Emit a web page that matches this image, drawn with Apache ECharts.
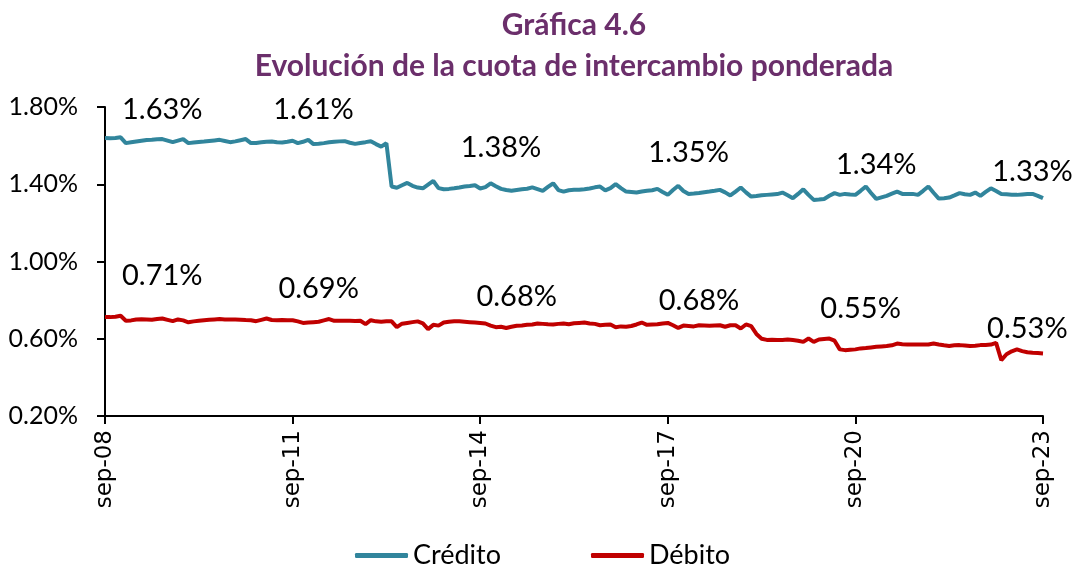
<!DOCTYPE html>
<html>
<head>
<meta charset="utf-8">
<script src="https://cdn.jsdelivr.net/npm/echarts@6/dist/echarts.min.js"></script>
<style>
html,body{margin:0;padding:0;background:#fff;}
#chart{width:1076px;height:567px;}
</style>
</head>
<body>
<div id="chart"></div>
<script>
// Monthly categories sep-08 .. sep-23
const monthNames = ['ene','feb','mar','abr','may','jun','jul','ago','sep','oct','nov','dic'];
const categories = [];
for (let k = 0; k < 181; k++) {
  const m = (8 + k) % 12;
  const y = 8 + Math.floor((8 + k) / 12);
  categories.push(monthNames[m] + '-' + String(y).padStart(2, '0'));
}

// Crédito (%)
const credito = [
  1.639,1.638,1.639,1.643,1.613,1.617,1.621,1.625,1.629,1.630,1.633,1.634,
  1.626,1.618,1.626,1.634,1.613,1.616,1.619,1.621,1.624,1.627,1.630,1.624,
  1.618,1.622,1.628,1.634,1.613,1.614,1.617,1.620,1.621,1.617,1.616,1.620,
  1.625,1.613,1.620,1.630,1.608,1.610,1.613,1.617,1.620,1.622,1.623,1.615,
  1.609,1.614,1.618,1.623,1.608,1.595,1.613,1.388,1.382,1.395,1.407,1.392,
  1.383,1.379,1.398,1.417,1.380,1.374,1.376,1.379,1.383,1.388,1.391,1.395,
  1.378,1.385,1.405,1.390,1.376,1.370,1.366,1.370,1.374,1.377,1.384,1.375,
  1.366,1.386,1.405,1.370,1.362,1.369,1.371,1.371,1.374,1.378,1.384,1.388,
  1.368,1.380,1.401,1.380,1.362,1.360,1.357,1.362,1.366,1.369,1.376,1.360,
  1.345,1.370,1.392,1.365,1.350,1.352,1.355,1.359,1.362,1.366,1.371,1.358,
  1.342,1.362,1.383,1.358,1.336,1.339,1.343,1.345,1.347,1.349,1.357,1.343,
  1.328,1.350,1.374,1.345,1.319,1.321,1.324,1.340,1.354,1.345,1.350,1.347,
  1.345,1.366,1.388,1.355,1.324,1.332,1.340,1.351,1.362,1.350,1.350,1.350,
  1.345,1.366,1.388,1.356,1.326,1.328,1.331,1.342,1.354,1.348,1.345,1.357,
  1.340,1.360,1.379,1.365,1.350,1.348,1.346,1.345,1.347,1.349,1.350,1.340,
  1.328
];

// Débito (%)
const debito = [
  0.713,0.712,0.714,0.719,0.693,0.695,0.700,0.701,0.700,0.698,0.702,0.705,
  0.698,0.691,0.700,0.695,0.685,0.690,0.693,0.696,0.698,0.700,0.702,0.700,
  0.700,0.700,0.699,0.697,0.696,0.691,0.698,0.705,0.697,0.696,0.697,0.696,
  0.696,0.690,0.682,0.684,0.686,0.688,0.695,0.702,0.693,0.693,0.693,0.693,
  0.692,0.693,0.676,0.696,0.690,0.688,0.690,0.690,0.660,0.678,0.682,0.686,
  0.690,0.680,0.650,0.672,0.668,0.684,0.688,0.690,0.690,0.688,0.686,0.684,
  0.682,0.679,0.668,0.660,0.662,0.656,0.662,0.667,0.669,0.672,0.674,0.679,
  0.677,0.675,0.674,0.677,0.679,0.675,0.680,0.682,0.684,0.679,0.677,0.670,
  0.672,0.674,0.660,0.664,0.662,0.666,0.674,0.684,0.672,0.674,0.675,0.679,
  0.682,0.670,0.656,0.668,0.666,0.664,0.670,0.669,0.667,0.669,0.670,0.662,
  0.670,0.670,0.653,0.674,0.665,0.625,0.600,0.594,0.595,0.594,0.594,0.596,
  0.593,0.590,0.584,0.601,0.584,0.596,0.599,0.601,0.590,0.545,0.541,0.543,
  0.545,0.550,0.552,0.555,0.558,0.560,0.562,0.566,0.575,0.572,0.570,0.570,
  0.570,0.570,0.570,0.575,0.570,0.566,0.563,0.566,0.567,0.565,0.562,0.564,
  0.567,0.568,0.570,0.579,0.489,0.520,0.535,0.545,0.536,0.530,0.527,0.526,
  0.524
];

// Annotations shown on the chart (text and the month they sit over)
const creditoLabelText = ['1.63%','1.61%','1.38%','1.35%','1.34%','1.33%'];
const creditoLabelIdx  = [11, 40, 76, 112, 148, 178];
const debitoLabelText  = ['0.71%','0.69%','0.68%','0.68%','0.55%','0.53%'];
const debitoLabelIdx   = [11, 41, 79, 114, 145, 177];

// Y ticks
const yMin = 0.2, yMax = 1.8, yStep = 0.4;

// label vertical offsets (px above the line)
const creditoOffsets = [-29,-34,-41,-41,-34,-22];
const debitoOffsets  = [-43,-33,-29,-25,-40,-24];

const CRED = '#31859C', DEB = '#C00000';
const FONT = 'Lato';

function mkPoints(texts, idxs, series, offs) {
  return texts.map((t, k) => ({
    coord: [idxs[k], series[idxs[k]]],
    value: t,
    label: { offset: [0, offs[k]] }
  }));
}

const chart = echarts.init(document.getElementById('chart'), null, {renderer: 'canvas'});
chart.setOption({
  animation: false,
  backgroundColor: '#fff',
  title: {
    text: 'Gráfica 4.6\nEvolución de la cuota de intercambio ponderada',
    left: 569,
    textAlign: 'center',
    top: 0,
    textStyle: {
      fontFamily: FONT, fontWeight: 'bold', fontSize: 30, color: '#6B2F6B', lineHeight: 41
    }
  },
  grid: { left: 105, right: 33, top: 107, bottom: 151, containLabel: false },
  legend: {
    top: 537,
    left: 350,
    itemWidth: 53,
    itemHeight: 5,
    itemGap: 90,
    icon: 'roundRect',
    textStyle: { fontFamily: FONT, fontSize: 27, color: '#000' },
    data: ['Crédito', 'Débito']
  },
  xAxis: {
    type: 'category',
    data: categories,
    boundaryGap: false,
    axisLine: { lineStyle: { color: '#000', width: 2 } },
    axisTick: { interval: 35, length: 8, lineStyle: { color: '#000', width: 2 } },
    axisLabel: {
      interval: 35, rotate: 90, margin: 14,
      fontFamily: 'DejaVu Sans', fontSize: 23, color: '#000'
    },
    splitLine: { show: false }
  },
  yAxis: {
    type: 'value',
    min: yMin, max: yMax, interval: yStep,
    axisLine: { show: true, lineStyle: { color: '#000', width: 2 } },
    axisTick: { show: true, length: 8, lineStyle: { color: '#000', width: 2 } },
    axisLabel: {
      margin: 27, fontFamily: FONT, fontSize: 25, color: '#000',
      formatter: v => v.toFixed(2) + '%'
    },
    splitLine: { show: false }
  },
  series: [
    {
      name: 'Crédito', type: 'line', data: credito,
      showSymbol: false, symbol: 'none',
      lineStyle: { color: CRED, width: 4 },
      itemStyle: { color: CRED },
      markPoint: {
        symbol: 'circle', symbolSize: 1,
        itemStyle: { color: 'rgba(0,0,0,0)' },
        label: { show: true, position: 'inside', color: '#000', fontFamily: FONT, fontSize: 29,
                 formatter: p => p.value },
        data: mkPoints(creditoLabelText, creditoLabelIdx, credito, creditoOffsets)
      }
    },
    {
      name: 'Débito', type: 'line', data: debito,
      showSymbol: false, symbol: 'none',
      lineStyle: { color: DEB, width: 4 },
      itemStyle: { color: DEB },
      markPoint: {
        symbol: 'circle', symbolSize: 1,
        itemStyle: { color: 'rgba(0,0,0,0)' },
        label: { show: true, position: 'inside', color: '#000', fontFamily: FONT, fontSize: 29,
                 formatter: p => p.value },
        data: mkPoints(debitoLabelText, debitoLabelIdx, debito, debitoOffsets)
      }
    }
  ]
});
</script>
</body>
</html>
